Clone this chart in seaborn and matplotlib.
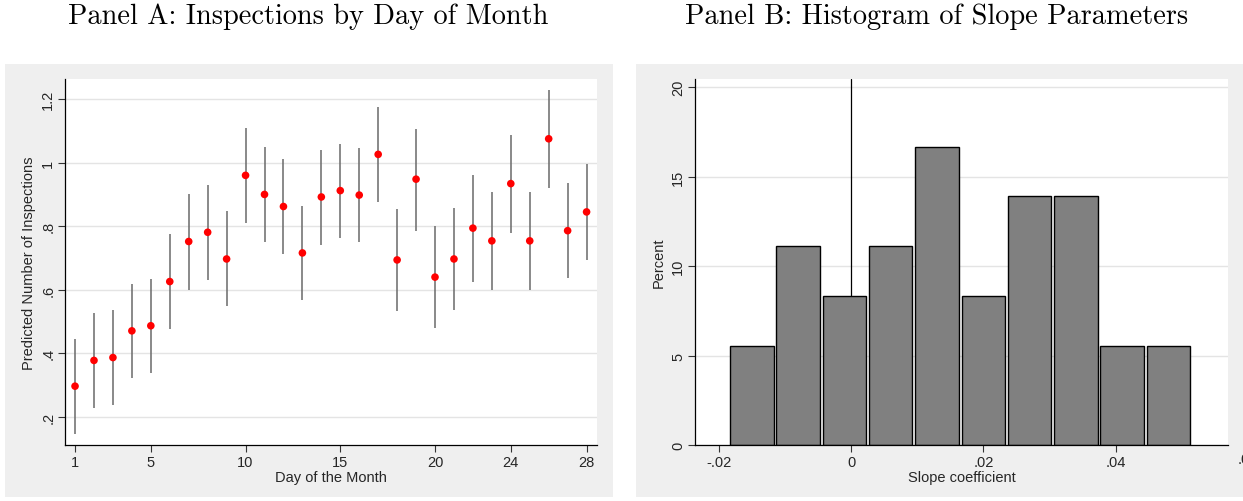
import matplotlib
matplotlib.use("Agg")
import matplotlib.pyplot as plt
import matplotlib.patches as mpatches
import seaborn as sns
import numpy as np
import pandas as pd

# Panel A: predicted inspections by day of month (point estimate + CI)
days = list(range(1, 29))
pred = [0.297, 0.378, 0.387, 0.471, 0.487, 0.626, 0.752, 0.781, 0.697, 0.960,
        0.900, 0.862, 0.716, 0.892, 0.912, 0.898, 1.026, 0.694, 0.948, 0.640,
        0.697, 0.794, 0.754, 0.934, 0.754, 1.075, 0.786, 0.845]
ci_hi = [0.446, 0.527, 0.536, 0.619, 0.635, 0.775, 0.900, 0.929, 0.847, 1.109,
         1.049, 1.011, 0.864, 1.040, 1.060, 1.047, 1.174, 0.855, 1.107, 0.801,
         0.858, 0.962, 0.908, 1.088, 0.908, 1.229, 0.935, 0.995]
ci_lo = [0.148, 0.229, 0.238, 0.322, 0.338, 0.477, 0.601, 0.632, 0.548, 0.811,
         0.751, 0.714, 0.567, 0.742, 0.762, 0.749, 0.877, 0.534, 0.786, 0.479,
         0.536, 0.625, 0.599, 0.780, 0.599, 0.921, 0.637, 0.695]
a_xticks = [1, 5, 10, 15, 20, 24, 28]
a_yticks = [0.2, 0.4, 0.6, 0.8, 1.0, 1.2]
a_ylabels = [".2", ".4", ".6", ".8", "1", "1.2"]

# Panel B: histogram of slope coefficients (36 estimates, 10 bins)
bin_edges = [-0.0185, -0.0115, -0.0045, 0.0025, 0.0095, 0.0165,
             0.0235, 0.0305, 0.0375, 0.0445, 0.0515]
bin_counts = [2, 4, 3, 4, 6, 3, 5, 5, 2, 2]
b_xticks = [-0.02, 0, 0.02, 0.04]
b_xlabels = ["-.02", "0", ".02", ".04"]
b_yticks = [0, 5, 10, 15, 20]

sns.set_theme(style="white")
plt.rcParams['font.family'] = ['Liberation Sans', 'DejaVu Sans']

W, H = 1243, 502
fig = plt.figure(figsize=(W / 100, H / 100), dpi=100)
fig.patch.set_facecolor("white")

def px_rect(x0, y0, x1, y1):
    return [x0 / W, 1 - y1 / H, (x1 - x0) / W, (y1 - y0) / H]

# stata-ish grey graph regions
for x0, x1 in [(5, 613), (636, 1243)]:
    r = px_rect(x0, 65, x1, 498)
    fig.patches.append(mpatches.Rectangle((r[0], r[1]), r[2], r[3],
                                          transform=fig.transFigure,
                                          facecolor="#efefef", edgecolor="none",
                                          zorder=-10))

title_font = dict(family="cmr10", fontsize=20.4, color="black")
fig.text(308 / W, 1 - 17 / H, "Panel A: Inspections by Day of Month",
         ha="center", va="center", **title_font)
fig.text(937 / W, 1 - 17 / H, "Panel B: Histogram of Slope Parameters",
         ha="center", va="center", **title_font)

tick_fs = 10.5

def style_axes(ax):
    ax.set_facecolor("white")
    for s in ["top", "right"]:
        ax.spines[s].set_visible(False)
    for s in ["left", "bottom"]:
        ax.spines[s].set_color("black")
        ax.spines[s].set_linewidth(0.9)
    ax.tick_params(axis="both", which="major", direction="out", length=5,
                   width=0.8, color="#333333", labelsize=tick_fs,
                   left=True, bottom=True, pad=2)
    ax.yaxis.grid(True, color="#e4e4e4", linewidth=1.0)
    ax.xaxis.grid(False)
    ax.set_axisbelow(True)
    for lbl in ax.get_yticklabels():
        lbl.set_rotation(90)
        lbl.set_va("center")

# ---- Panel A ----
ax1 = fig.add_axes(px_rect(65, 80, 597, 446))
dfa = pd.DataFrame({"day": days, "pred": pred, "lo": ci_lo, "hi": ci_hi})
ax1.vlines(dfa["day"], dfa["lo"], dfa["hi"], color="#6a6a6a", linewidth=1.1,
           zorder=2)
sns.scatterplot(data=dfa, x="day", y="pred", ax=ax1, color="red", s=30,
                edgecolor="none", zorder=3, legend=False)
ax1.set_xlim(0.47, 28.55)
ax1.set_ylim(0.112, 1.263)
ax1.set_xticks(a_xticks)
ax1.set_yticks(a_yticks)
ax1.set_yticklabels(a_ylabels)
ax1.set_xlabel("Day of the Month", fontsize=tick_fs, labelpad=1)
ax1.set_ylabel("Predicted Number of Inspections", fontsize=tick_fs, labelpad=4)
style_axes(ax1)

# ---- Panel B ----
ax2 = fig.add_axes(px_rect(695, 80, 1228, 446))
centers = [(bin_edges[i] + bin_edges[i + 1]) / 2 for i in range(len(bin_counts))]
dfb = pd.DataFrame({"slope": centers, "n": bin_counts})
sns.histplot(data=dfb, x="slope", weights="n", bins=bin_edges, stat="percent",
             ax=ax2, color="#808080", alpha=1, edgecolor="black",
             linewidth=1.0, shrink=0.94, zorder=2)
ax2.axvline(0, color="black", linewidth=0.9, zorder=1)
ax2.set_xlim(-0.0236, 0.0570)
ax2.set_ylim(0, 20.45)
ax2.set_xticks(b_xticks)
ax2.set_xticklabels(b_xlabels)
ax2.set_yticks(b_yticks)
ax2.set_xlabel("Slope coefficient", fontsize=tick_fs, labelpad=1)
ax2.set_ylabel("Percent", fontsize=tick_fs, labelpad=4)
style_axes(ax2)
# the ".06" label sits past the right edge in the original, only its dot shows
ax2.text(0.06, -0.4, ".06", transform=ax2.transData,
         ha="center", va="top", fontsize=tick_fs, clip_on=False)

fig.savefig("out.png", dpi=100)
